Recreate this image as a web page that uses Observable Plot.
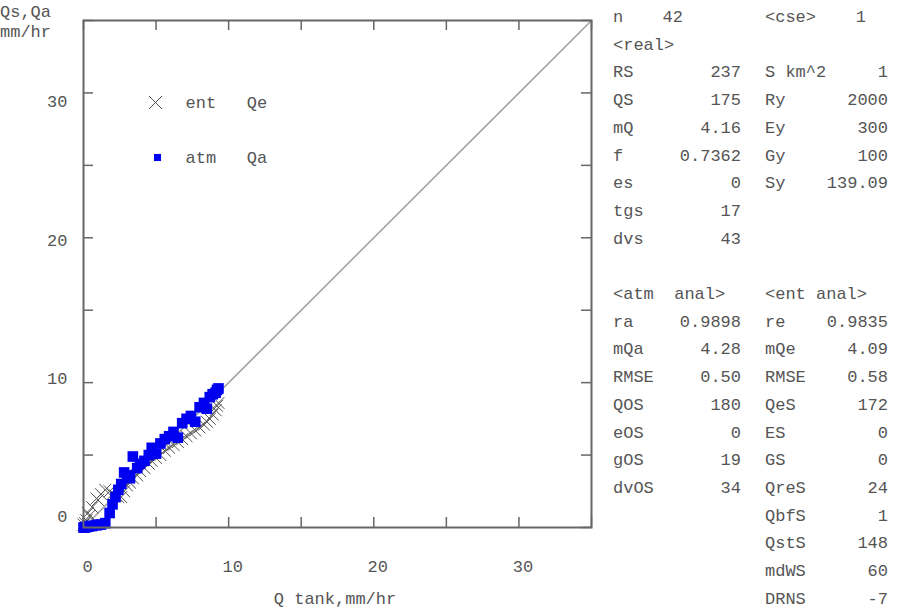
<!DOCTYPE html>
<html><head><meta charset="utf-8">
<script src="https://cdn.jsdelivr.net/npm/d3@7"></script>
<script src="https://cdn.jsdelivr.net/npm/@observablehq/plot@0.6"></script>
<style>
body{margin:0;background:#fff;}
#wrap{position:relative;width:898px;height:613px;font-family:"Liberation Mono",monospace;color:#555;overflow:hidden;}
#chart{position:absolute;left:0;top:0;}
#chart svg text{white-space:pre;}
.c{position:absolute;font-size:17px;line-height:20px;white-space:pre;}
</style></head><body>
<div id="wrap"><div id="chart"></div></div>
<script>
// ---- data ----
const qTank = [0.0,0.1,0.2,0.3,0.4,0.6,0.9,1.0,1.2,1.5,1.8,2.0,2.2,2.4,2.6,2.8,3.0,3.2,3.4,3.7,3.9,4.2,4.5,4.7,5.0,5.3,5.6,5.9,6.2,6.5,6.8,7.1,7.4,7.7,8.0,8.3,8.5,8.7,8.9,9.1,9.2,9.3];
const qAtm  = [0.0,0.0,0.05,0.05,0.1,0.1,0.15,0.2,0.2,0.3,1.0,1.6,2.1,2.6,3.0,3.8,3.6,3.4,4.9,4.1,4.4,4.6,5.0,5.5,5.1,5.8,6.1,6.3,6.6,6.2,7.2,7.5,7.7,7.3,8.3,8.6,8.2,9.0,9.2,9.3,9.5,9.6];
const qEnt  = [0.2,0.3,0.5,1.0,0.8,1.4,2.0,1.9,2.3,2.6,2.5,2.3,2.2,2.1,2.1,2.5,2.9,3.1,3.4,3.6,3.9,4.1,4.4,4.6,4.8,5.0,5.3,5.5,5.7,5.9,6.1,6.3,6.5,6.7,6.9,7.1,7.3,7.5,7.8,8.1,8.4,8.6];

const axisDomain = [0, 35];
const tickValues = [0,5,10,15,20,25,30,35];
const labelValues = [0,10,20,30];
const legendLabels = ["ent   Qe", "atm   Qa"];
const yTitle = ["Qs,Qa", "mm/hr"];
const xTitle = "Q tank,mm/hr";

const headLabels = ["n", "<cse>"];
const headValues = ["42", "1"];
const realHeader = "<real>";
const realLabels = ["RS","QS","mQ","f","es","tgs","dvs"];
const realValues = ["237","175","4.16","0.7362","0","17","43"];
const paramLabels = ["S km^2","Ry","Ey","Gy","Sy"];
const paramValues = ["1","2000","300","100","139.09"];
const atmHeader = "<atm  anal>";
const atmLabels = ["ra","mQa","RMSE","QOS","eOS","gOS","dvOS"];
const atmValues = ["0.9898","4.28","0.50","180","0","19","34"];
const entHeader = "<ent anal>";
const entLabels = ["re","mQe","RMSE","QeS","ES","GS","QreS","QbfS","QstS","mdWS","DRNS"];
const entValues = ["0.9835","4.09","0.58","172","0","0","24","1","148","60","-7"];

// ---- chart ----
const points = qTank.map((q, i) => ({q, qa: qAtm[i], qe: qEnt[i]}));
const W = 600, H = 613, mL = 83, mR = 9, mT = 20, mB = 86;
const innerW = W - mL - mR, innerH = H - mT - mB;
const grey = "#666";
const font = {fontFamily: "Liberation Mono, monospace", fontSize: 17};

const chart = Plot.plot({
  width: W, height: H,
  marginLeft: mL, marginRight: mR, marginTop: mT, marginBottom: mB,
  x: {domain: axisDomain},
  y: {domain: axisDomain},
  style: {fontFamily: "Liberation Mono, monospace", fontSize: "17px", color: "#555", background: "transparent", overflow: "visible"},
  marks: [
    Plot.line(axisDomain.map(v => [v, v]), {stroke: "#a0a0a0", strokeWidth: 1.5}),
    Plot.tickX(tickValues, {x: d => d, insetTop: innerH - 10, stroke: grey, strokeWidth: 1.5}),
    Plot.tickX(tickValues, {x: d => d, insetBottom: innerH - 10, stroke: grey, strokeWidth: 1.5}),
    Plot.tickY(tickValues, {y: d => d, insetRight: innerW - 10, stroke: grey, strokeWidth: 1.5}),
    Plot.tickY(tickValues, {y: d => d, insetLeft: innerW - 10, stroke: grey, strokeWidth: 1.5}),
    Plot.axisX(labelValues, {tickSize: 0, tickPadding: 32, dx: 4, label: null, ...font}),
    ...labelValues.map(v => Plot.axisY([v], {tickSize: 0, tickPadding: 16, dy: -11 + v * 2 / 3, label: null, ...font})),
    Plot.dot(points, {x: "q", y: "qe", symbol: "times", r: 5.5, stroke: "#505050", strokeWidth: 1}),
    Plot.dot(points, {x: "q", y: "qa", symbol: "square", r: 6, fill: "#0000f0", stroke: "none"}),
    Plot.frame({stroke: grey, strokeWidth: 2}),
    Plot.dot([legendLabels[0]], {frameAnchor: "top-left", dx: 72, dy: 82, symbol: "times", r: 6, stroke: "#505050", strokeWidth: 1}),
    Plot.text([legendLabels[0]], {text: d => d, frameAnchor: "top-left", dx: 102, dy: 82, textAnchor: "start", lineAnchor: "middle", fill: "#555", ...font}),
    Plot.dot([legendLabels[1]], {frameAnchor: "top-left", dx: 74, dy: 137, symbol: "square", r: 4, fill: "#0000f0", stroke: "none"}),
    Plot.text([legendLabels[1]], {text: d => d, frameAnchor: "top-left", dx: 102, dy: 137, textAnchor: "start", lineAnchor: "middle", fill: "#555", ...font})
  ]
});
document.getElementById("chart").appendChild(chart);

// ---- text overlays ----
const wrap = document.getElementById("wrap");
function put(text, x, y, align) {
  const s = document.createElement("span");
  s.className = "c";
  s.textContent = text;
  s.style.top = (y - 10) + "px";
  if (align === "right") s.style.right = (898 - x) + "px";
  else if (align === "center") { s.style.left = x + "px"; s.style.transform = "translateX(-50%)"; }
  else s.style.left = x + "px";
  wrap.appendChild(s);
}
const rowY = i => 18 + 27.7 * i;
const colA = 613, colAR = 741, colB = 765, colBR = 888;

put(yTitle[0], 0, 13);
put(yTitle[1], 0, 33);
put(xTitle, 335, 600, "center");

put(headLabels[0], colA, rowY(0));
put(headValues[0], 683, rowY(0), "right");
put(headLabels[1], colB, rowY(0));
put(headValues[1], 866, rowY(0), "right");
put(realHeader, colA, rowY(1));
realLabels.forEach((l, i) => { put(l, colA, rowY(2 + i)); put(realValues[i], colAR, rowY(2 + i), "right"); });
paramLabels.forEach((l, i) => { put(l, colB, rowY(2 + i)); put(paramValues[i], colBR, rowY(2 + i), "right"); });
put(atmHeader, colA, rowY(10));
put(entHeader, colB, rowY(10));
atmLabels.forEach((l, i) => { put(l, colA, rowY(11 + i)); put(atmValues[i], colAR, rowY(11 + i), "right"); });
entLabels.forEach((l, i) => { put(l, colB, rowY(11 + i)); put(entValues[i], colBR, rowY(11 + i), "right"); });
</script>
</body></html>
